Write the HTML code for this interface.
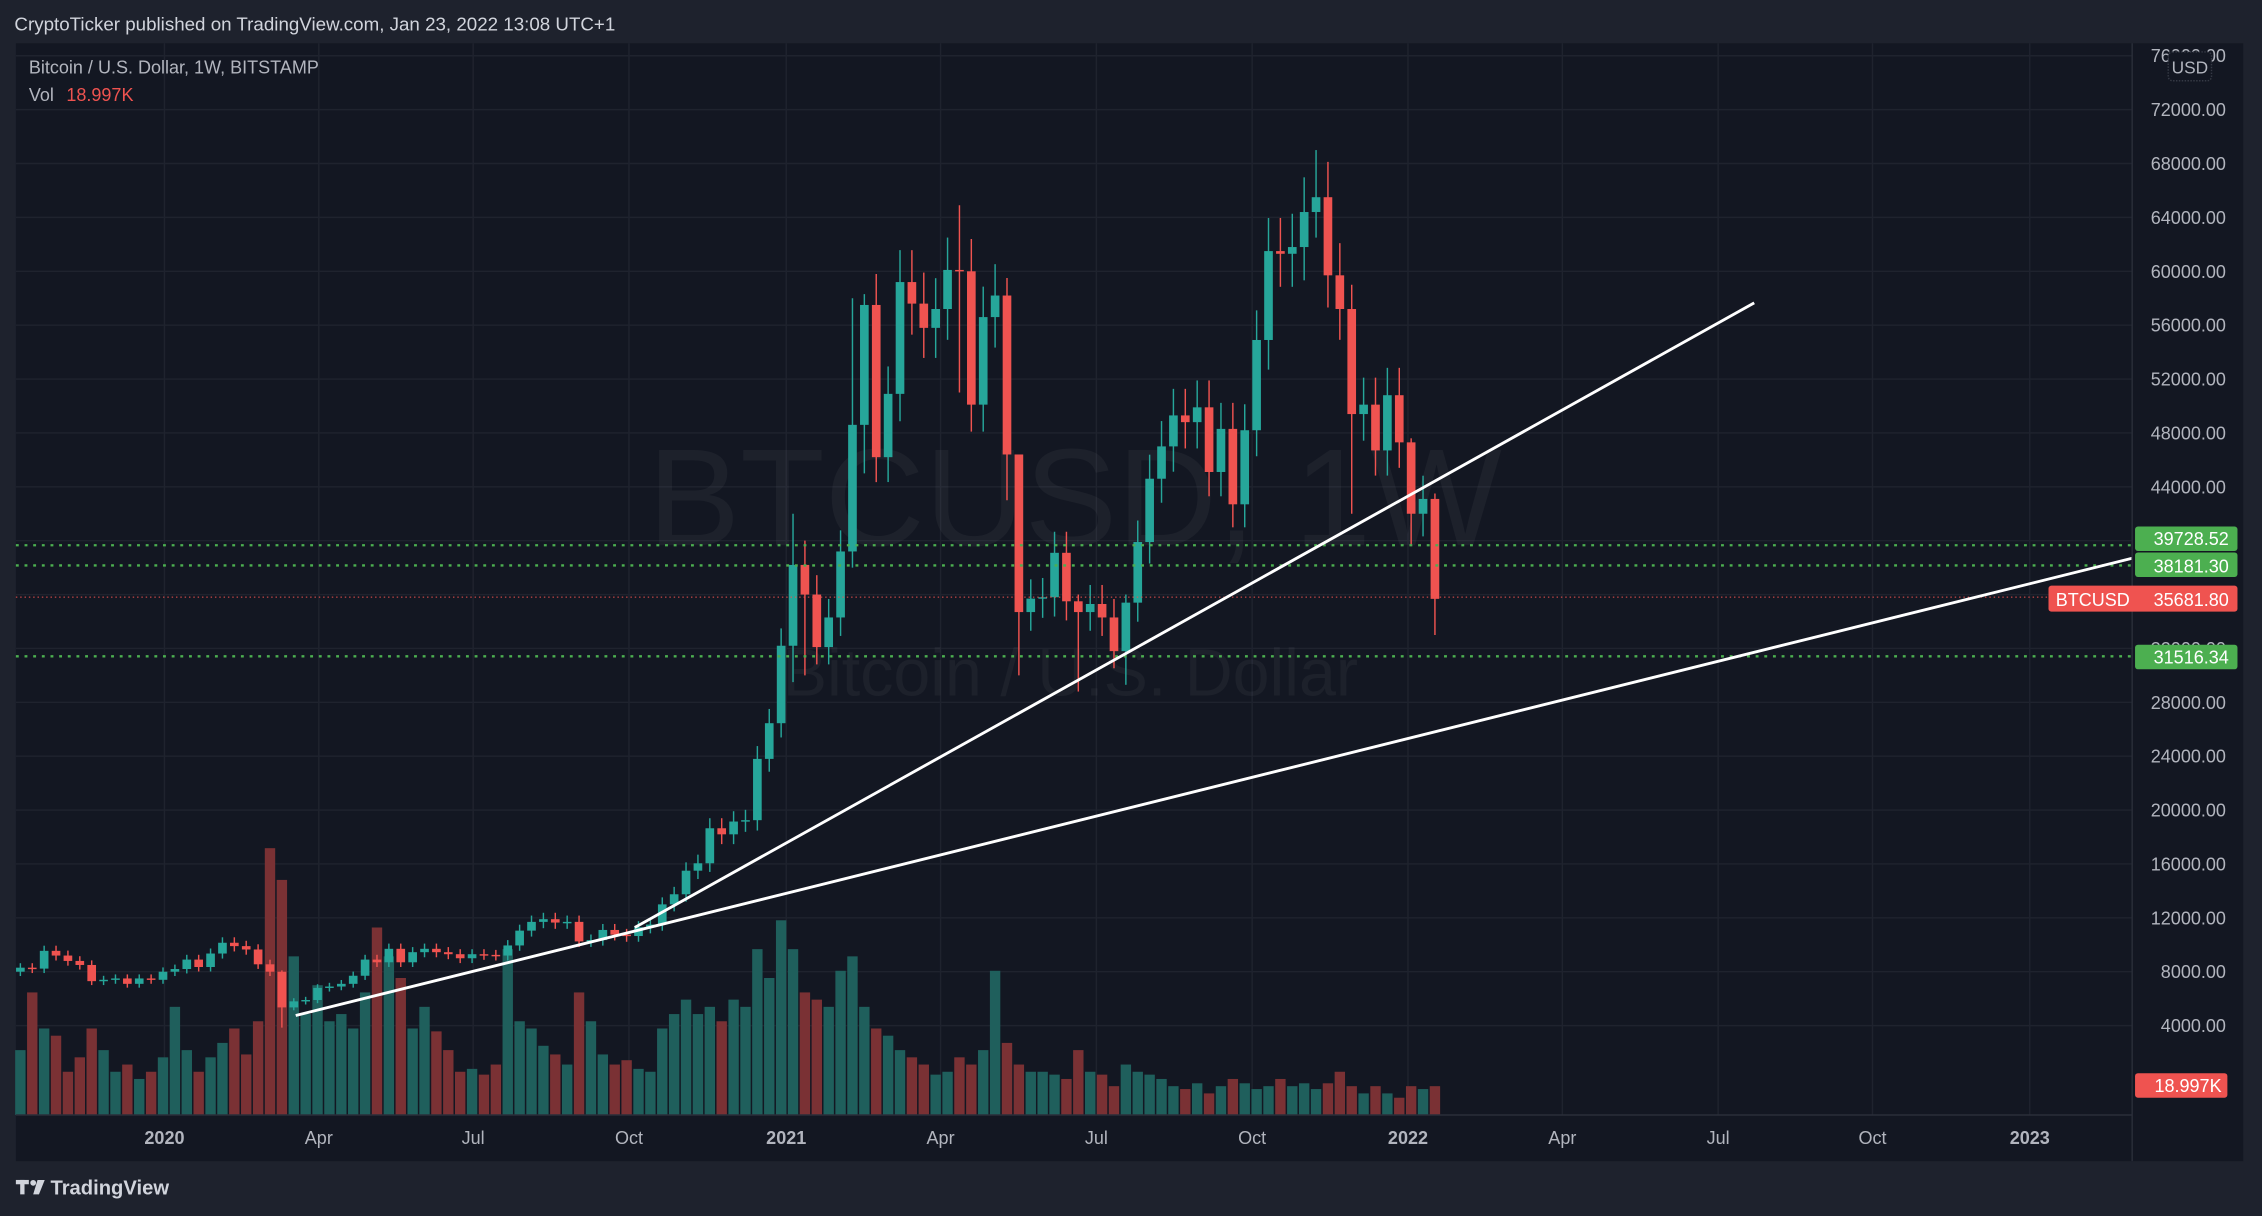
<!DOCTYPE html>
<html><head><meta charset="utf-8"><style>
html,body{margin:0;padding:0;background:#1e222d;}
svg{display:block;}
text{font-family:"Liberation Sans","DejaVu Sans",sans-serif;}
</style></head><body>
<svg id="s" width="2262" height="1216" viewBox="0 0 1568 843" preserveAspectRatio="none" xmlns="http://www.w3.org/2000/svg">
<rect x="0" y="0" width="1568" height="843" fill="#1e222d"/>
<rect x="11" y="30" width="1544" height="775" fill="#131722"/>
<g id="grid"></g>
<text x="745" y="378" text-anchor="middle" font-size="96" fill="#ffffff" fill-opacity="0.045">BTCUSD, 1W</text>
<text x="742" y="482" text-anchor="middle" font-size="46" fill="#ffffff" fill-opacity="0.045">Bitcoin / U.S. Dollar</text>
<g id="vol"></g>
<g id="candles"></g>
<line x1="11" y1="378" x2="1478" y2="378" stroke="#4caf50" stroke-width="1.6" stroke-dasharray="2,4"/>
<line x1="11" y1="392" x2="1478" y2="392" stroke="#4caf50" stroke-width="1.6" stroke-dasharray="2,4"/>
<line x1="11" y1="455" x2="1478" y2="455" stroke="#4caf50" stroke-width="1.6" stroke-dasharray="2,4"/>
<line x1="11" y1="414" x2="1478" y2="414" stroke="#ef5350" stroke-width="0.7" stroke-dasharray="1,2"/>
<line x1="440" y1="643" x2="1216" y2="210" stroke="#ffffff" stroke-width="2"/>
<line x1="205" y1="704" x2="1478" y2="387" stroke="#ffffff" stroke-width="2"/>
<line x1="1478" y1="30" x2="1478" y2="805" stroke="#2a2e39" stroke-width="1"/>
<line x1="11" y1="773" x2="1478" y2="773" stroke="#2a2e39" stroke-width="1"/>
<g id="axis" font-size="12.5" fill="#b2b5be"></g>
<rect x="1503" y="36" width="30" height="20" rx="3" fill="#131722" stroke="#363a45" stroke-dasharray="1,1"/>
<text x="1518" y="51" text-anchor="middle" font-size="12" fill="#b2b5be">USD</text>
<rect x="1480" y="365" width="71" height="17" rx="2" fill="#4caf50"/>
<text x="1545" y="378" text-anchor="end" font-size="12.5" fill="#fff">39728.52</text>
<rect x="1480" y="383" width="71" height="17" rx="2" fill="#4caf50"/>
<text x="1545" y="397" text-anchor="end" font-size="12.5" fill="#fff">38181.30</text>
<rect x="1420" y="406" width="131" height="18" rx="2" fill="#ef5350"/>
<text x="1425" y="420" font-size="12.5" fill="#fff">BTCUSD</text>
<text x="1545" y="420" text-anchor="end" font-size="12.5" fill="#fff">35681.80</text>
<rect x="1480" y="447" width="71" height="17" rx="2" fill="#4caf50"/>
<text x="1545" y="460" text-anchor="end" font-size="12.5" fill="#fff">31516.34</text>
<rect x="1480" y="744" width="64" height="17" rx="2" fill="#ef5350"/>
<text x="1540" y="757" text-anchor="end" font-size="12.5" fill="#fff">18.997K</text>
<text x="10" y="21" font-size="13" fill="#d1d4dc">CryptoTicker published on TradingView.com, Jan 23, 2022 13:08 UTC+1</text>
<text x="20" y="51" font-size="12.5" fill="#b2b5be">Bitcoin / U.S. Dollar, 1W, BITSTAMP</text>
<text x="20" y="70" font-size="12.5" fill="#b2b5be">Vol</text>
<text x="46" y="70" font-size="12.5" fill="#ef5350">18.997K</text>
<g transform="translate(11,816)"><rect x="0" y="2" width="9" height="3" fill="#d1d4dc"/><rect x="3" y="2" width="3" height="10" fill="#d1d4dc"/><circle cx="12" cy="4" r="2" fill="#d1d4dc"/><path d="M15 2 L20 2 L16 12 L12 12 Z" fill="#d1d4dc"/></g>
<text x="35" y="828" font-size="14" font-weight="bold" fill="#d1d4dc">TradingView</text>
</svg>
<script>
var NS="http://www.w3.org/2000/svg";
function el(p,t,a){var e=document.createElementNS(NS,t);for(var k in a)e.setAttribute(k,a[k]);p.appendChild(e);return e;}
function Y(p){return 711-(p-4000)*0.009338;}
function X(i){return 113+i*8.24;}
var grid=document.getElementById('grid'),axis=document.getElementById('axis');
for(var p=4000;p<=76000;p+=4000){var y=Y(p);el(grid,'line',{x1:11,y1:y,x2:1478,y2:y,stroke:'#1f232e','stroke-width':1});
var t=el(axis,'text',{x:1543,y:y+4.5,'text-anchor':'end'});t.textContent=p+'.00';}
var tl=[["2020",114,1],["Apr",221],["Jul",328],["Oct",436],["2021",545,1],["Apr",652],["Jul",760],["Oct",868],["2022",976,1],["Apr",1083],["Jul",1191],["Oct",1298],["2023",1407,1]];
tl.forEach(function(a){el(grid,'line',{x1:a[1],y1:30,x2:a[1],y2:773,stroke:'#1f232e','stroke-width':1});
var t=el(axis,'text',{x:a[1],y:793,'text-anchor':'middle'});if(a[2])t.setAttribute('font-weight','bold');t.textContent=a[0];});
var closes=[8300,8230,9550,9200,8800,8500,7300,7400,7500,7100,7500,7400,
8000,8200,8900,8350,9350,10150,9900,9650,8550,8000,5350,5800,5900,6800,6900,7100,7700,8900,8700,9700,8700,9450,9700,9450,9300,9000,9300,9250,9200,9950,11050,11700,11900,11650,11700,10250,10350,11100,10750,10650,11300,11500,13000,13750,15500,16050,18650,18200,19150,19250,23800,26450,32200,
38200,36000,32100,34300,39200,48600,57500,46200,50900,59200,57600,55800,57200,60100,60000,50100,56600,58200,46400,34700,35700,35800,39100,35500,34700,35300,34300,31800,35400,39900,44600,47000,49300,48800,49900,45100,48300,42700,48200,54900,61500,61300,61800,64400,65500,59700,57200,49400,50100,46700,50800,47300,42000,43100,35681];
var spec={10:[8100,3850],53:[42000,29500],54:[40000,30000],58:[58000,38000],59:[58300,45000],67:[64900,51000],71:[59500,43000],72:[43500,30000],77:[36000,28800],81:[36000,29300],97:[69000,62500],100:[59000,42000],105:[47600,39600],107:[43500,33000]};
var vols=[45,85,60,55,30,40,60,45,30,35,25,30,
40,75,45,30,40,50,60,42,65,185,163,110,70,90,65,70,60,85,130,110,95,60,75,58,45,30,32,28,35,115,65,60,48,42,35,85,65,42,35,38,32,30,60,70,80,70,75,65,80,75,115,95,135,
115,85,80,75,100,110,75,60,55,45,40,35,28,30,40,35,45,100,50,35,30,30,28,25,45,30,28,20,35,30,28,25,20,18,22,15,20,25,22,18,20,25,20,22,18,22,30,20,15,20,15,12,20,18];
var cg=document.getElementById('candles'),vg=document.getElementById('vol');
var prev=8000;
for(var k=0;k<closes.length;k++){var i=k-12,o=prev,c=closes[k];prev=c;
var up=c>=o,col=up?'#26a69a':'#ef5350';
var hi=Math.max(o,c)*1.04,lo=Math.min(o,c)*0.96;
if(spec[i]){hi=spec[i][0];lo=spec[i][1];}
var x=X(i);
el(cg,'line',{x1:x,y1:Y(hi),x2:x,y2:Y(lo),stroke:col,'stroke-width':1});
var yt=Y(Math.max(o,c)),yb=Y(Math.min(o,c));
el(cg,'rect',{x:x-3,y:yt,width:6,height:Math.max(1,yb-yt),fill:col});
var v=vols[k]||20;
el(vg,'rect',{x:x-3.6,y:773-v,width:7.2,height:v,fill:up?'#1f5f5c':'#7a3134'});
}
</script>
</body></html>
